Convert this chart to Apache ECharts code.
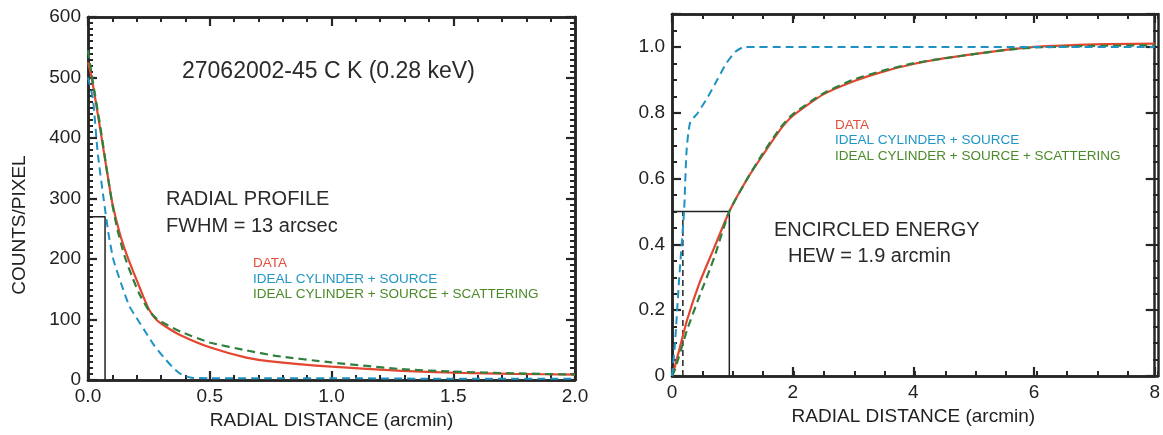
<!DOCTYPE html>
<html><head><meta charset="utf-8">
<script src="https://cdn.jsdelivr.net/npm/echarts@6/dist/echarts.min.js"></script>
<style>html,body{margin:0;padding:0;background:#fff}#c{width:1163px;height:435px}</style>
</head><body><div id="c"></div>
<script>
// ---------- LEFT PANEL: RADIAL PROFILE ----------
const profDataX = [0, 0.015, 0.05, 0.08, 0.1, 0.13, 0.16, 0.19, 0.22, 0.25, 0.28, 0.32, 0.38, 0.5, 0.65, 0.77, 1.0, 1.29, 1.5, 1.75, 2.0];
const profDataY = [525, 500, 415, 340, 292, 243, 206, 175, 145, 117, 100, 88, 74, 54, 37, 30, 22, 15, 12, 10, 9];

const profIdealX = [0, 0.02, 0.04, 0.065, 0.085, 0.105, 0.14, 0.17, 0.21, 0.24, 0.27, 0.31, 0.35, 0.38, 0.42, 0.5, 0.75, 1.0, 1.5, 2.0];
const profIdealY = [500, 465, 375, 297, 240, 198, 155, 122, 96, 77, 58, 38, 20, 10, 4, 3, 3, 3, 2, 2];

const profScatX = [0, 0.015, 0.05, 0.08, 0.1, 0.12, 0.15, 0.18, 0.21, 0.25, 0.28, 0.32, 0.38, 0.5, 0.65, 0.77, 1.0, 1.29, 1.5, 1.75, 2.0];
const profScatY = [545, 505, 420, 340, 290, 250, 205, 172, 143, 115, 102, 92, 80, 62, 49, 40, 29, 18, 14, 11, 9];

// FWHM marker (half maximum and its radius)
const fwhmMarkX = [0, 0.07, 0.07];
const fwhmMarkY = [270, 270, 0];

// ---------- RIGHT PANEL: ENCIRCLED ENERGY ----------
const eeDataX = [0, 0.05, 0.25, 0.45, 0.7, 0.95, 1.25, 1.5, 1.8, 2.0, 2.5, 3.0, 3.5, 4.0, 4.5, 5.0, 5.5, 6.0, 7.0, 8.0];
const eeDataY = [0, 0.03, 0.17, 0.28, 0.39, 0.5, 0.6, 0.67, 0.75, 0.79, 0.855, 0.895, 0.925, 0.948, 0.965, 0.978, 0.99, 1.0, 1.008, 1.01];

const eeIdealX = [0, 0.05, 0.12, 0.2, 0.24, 0.3, 0.43, 0.6, 0.75, 0.9, 1.05, 1.2, 2, 4, 6, 8];
const eeIdealY = [0, 0.1, 0.3, 0.5, 0.68, 0.77, 0.8, 0.85, 0.9, 0.95, 0.985, 1.0, 1.0, 1.0, 1.0, 1.0];

const eeScatX = [0, 0.05, 0.25, 0.45, 0.7, 0.95, 1.25, 1.5, 1.8, 2.0, 2.5, 3.0, 3.5, 4.0, 4.5, 5.0, 5.5, 6.0, 7.0, 8.0];
const eeScatY = [0, 0.02, 0.14, 0.24, 0.36, 0.5, 0.6, 0.675, 0.755, 0.795, 0.858, 0.9, 0.928, 0.95, 0.965, 0.978, 0.99, 0.998, 1.003, 1.005];

// HEW markers
const hewMarkX = [0, 0.95, 0.95];
const hewMarkY = [0.5, 0.5, 0];
const hewIdealMarkX = [0.18, 0.18];
const hewIdealMarkY = [0, 0.5];

// ---------- TEXTS ----------
const legendLabels = ['DATA', 'IDEAL CYLINDER + SOURCE', 'IDEAL CYLINDER + SOURCE + SCATTERING'];
const leftTitle = '27062002-45 C K (0.28 keV)';
const leftNotes = ['RADIAL PROFILE', 'FWHM = 13 arcsec'];
const rightNotes = ['ENCIRCLED ENERGY', 'HEW = 1.9 arcmin'];
const xAxisName = 'RADIAL DISTANCE (arcmin)';
const yAxisNameLeft = 'COUNTS/PIXEL';

const zip = (xs, ys) => xs.map((x, i) => [x, ys[i]]);

const FONT = '"Liberation Sans", Arial, Helvetica, sans-serif';
const AX = '#262626';
const RED = '#e4462f', BLUE = '#1e92c4', GREEN = '#2f7f3e';
const LEG_COLORS = ['#e0503a', '#2096c6', '#4b8a2a'];

function mkAxis(grid, pos, min, max, interval, showLabels, fmt, name) {
  const a = {
    type: 'value', gridIndex: grid, position: pos, min, max, interval,
    axisLine: { show: true, onZero: false, lineStyle: { color: AX, width: 2.5 } },
    axisTick: { show: true, inside: true, length: 9, lineStyle: { color: AX, width: 2.2 } },
    splitLine: { show: false },
    axisLabel: { show: showLabels, formatter: fmt, color: '#222', fontSize: 19, fontFamily: FONT, margin: 7 }
  };
  if (name) {
    a.name = name; a.nameLocation = 'middle'; a.nameGap = 30;
    a.nameTextStyle = { color: '#222', fontSize: 19, fontFamily: FONT };
  }
  return a;
}
// axis of an overlay grid carrying only the short (minor) ticks
function mkMinor(grid, pos, min, max, interval) {
  return {
    type: 'value', gridIndex: grid, position: pos, min, max, interval,
    axisLine: { show: true, onZero: false, lineStyle: { color: AX, width: 2.5 } },
    axisTick: { show: true, inside: true, length: 5, lineStyle: { color: AX, width: 2 } },
    splitLine: { show: false }, axisLabel: { show: false }
  };
}

const fmt1 = v => v.toFixed(1);
const fmtInt = v => String(Math.round(v));
const fmtEE = v => v > 1.05 ? '' : (v === 0 ? '0' : v.toFixed(1));

function line(name, data, xi, yi, color, dashed, width) {
  return {
    name, type: 'line', data, xAxisIndex: xi, yAxisIndex: yi,
    showSymbol: false, symbol: 'none', smooth: 0.2,
    lineStyle: { color, width: width || 2, type: dashed ? [8, 5] : 'solid' },
    silent: true, z: 3
  };
}
function marker(data, xi, yi, dashed) {
  return {
    type: 'line', data, xAxisIndex: xi, yAxisIndex: yi, showSymbol: false, symbol: 'none',
    lineStyle: { color: '#222', width: 1.5, type: dashed ? [6, 4] : 'solid' }, silent: true, z: 2
  };
}

function txt(text, x, y, size, color, align) {
  return { type: 'text', x, y, silent: true,
    style: { text, fill: color, fontSize: size, fontFamily: FONT, align: align || 'left', verticalAlign: 'middle' } };
}

const graphics = [
  txt(leftTitle, 182, 72, 23, '#2a2a2a'),
  txt(leftNotes[0], 166, 199, 20, '#2a2a2a'),
  txt(leftNotes[1], 166, 226, 20, '#2a2a2a'),
  txt(rightNotes[0], 774, 230, 20, '#2a2a2a'),
  txt(rightNotes[1], 788, 256, 20, '#2a2a2a'),
  { type: 'text', x: 20, y: 225, rotation: Math.PI / 2, silent: true,
    style: { text: yAxisNameLeft, fill: '#222', fontSize: 19, fontFamily: FONT, align: 'center', verticalAlign: 'middle' } }
];
[263, 279, 294].forEach((y, i) => graphics.push(txt(legendLabels[i], 253, y, 13.5, LEG_COLORS[i])));
[125, 140, 156].forEach((y, i) => graphics.push(txt(legendLabels[i], 835, y, 13.5, LEG_COLORS[i])));

const G0 = { left: 88, top: 17, width: 487, height: 363 };
const G1 = { left: 672, top: 14, width: 486, height: 362 };

const option = {
  animation: false,
  backgroundColor: '#fff',
  grid: [ G0, G1, Object.assign({}, G0), Object.assign({}, G1) ],
  xAxis: [
    mkAxis(0, 'bottom', 0, 2, 0.5, true, fmt1, xAxisName),
    mkAxis(0, 'top', 0, 2, 0.5, false, fmt1),
    mkAxis(1, 'bottom', 0, 8, 2, true, fmtInt, xAxisName),
    mkAxis(1, 'top', 0, 8, 2, false, fmtInt),
    mkMinor(2, 'bottom', 0, 2, 0.1),
    mkMinor(2, 'top', 0, 2, 0.1),
    mkMinor(3, 'bottom', 0, 8, 0.5),
    mkMinor(3, 'top', 0, 8, 0.5)
  ],
  yAxis: [
    mkAxis(0, 'left', 0, 600, 100, true, fmtInt),
    mkAxis(0, 'right', 0, 600, 100, false, fmtInt),
    mkAxis(1, 'left', 0, 1.1, 0.2, true, fmtEE),
    mkAxis(1, 'right', 0, 1.1, 0.2, false, fmtEE),
    mkMinor(2, 'left', 0, 600, 10),
    mkMinor(2, 'right', 0, 600, 10),
    mkMinor(3, 'left', 0, 1.1, 0.05),
    mkMinor(3, 'right', 0, 1.1, 0.05)
  ],
  graphic: graphics,
  series: [
    marker(zip(fwhmMarkX, fwhmMarkY), 0, 0, false),
    line(legendLabels[0], zip(profDataX, profDataY), 0, 0, RED, false, 2.2),
    line(legendLabels[2], zip(profScatX, profScatY), 0, 0, GREEN, true, 2.2),
    line(legendLabels[1], zip(profIdealX, profIdealY), 0, 0, BLUE, true, 2),
    marker(zip(hewMarkX, hewMarkY), 2, 2, false),
    marker(zip(hewIdealMarkX, hewIdealMarkY), 2, 2, true),
    line(legendLabels[0], zip(eeDataX, eeDataY), 2, 2, RED, false, 2.2),
    line(legendLabels[2], zip(eeScatX, eeScatY), 2, 2, GREEN, true, 2.2),
    line(legendLabels[1], zip(eeIdealX, eeIdealY), 2, 2, BLUE, true, 2)
  ]
};

const chart = echarts.init(document.getElementById('c'), null, { renderer: 'canvas' });
chart.setOption(option);
</script>
</body></html>
